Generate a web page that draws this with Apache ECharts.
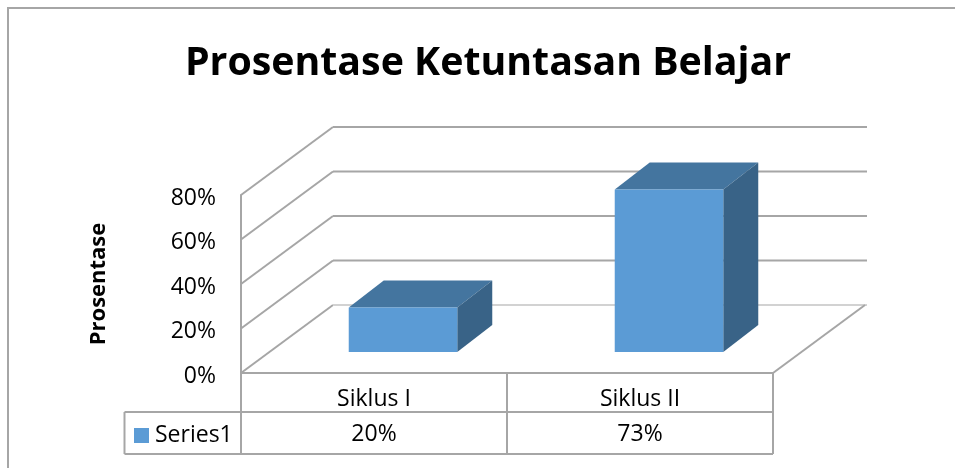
<!DOCTYPE html>
<html>
<head>
<meta charset="utf-8">
<title>Prosentase Ketuntasan Belajar</title>
<script src="https://cdn.jsdelivr.net/npm/echarts@6/dist/echarts.min.js"></script>
<style>
  html, body { margin: 0; padding: 0; background: #fff; }
  #chart { width: 955px; height: 468px; }
</style>
</head>
<body>
<div id="chart"></div>
<script>
var categories = ['Siklus I', 'Siklus II']
var seriesName = 'Series1'
var values = [20, 73]
var yTicks = [0, 20, 40, 60, 80]

var FONT = '"Open Sans", "Noto Sans", sans-serif'
var LINE = '#a6a6a6'
// kedalaman 3D: dinding belakang dan posisi batang di lantai
var WALL_DX = 92, WALL_DY = 68
var BAR_NEAR_DX = 29, BAR_NEAR_DY = 21
var BAR_DX = 35, BAR_DY = 27
var BAR_RATIO = 0.408
// baris tabel data
var ROW_1 = 412, ROW_2 = 454, TABLE_LEFT = 124.5

function line (x1, y1, x2, y2, color, width) {
  return {
    type: 'line',
    shape: { x1: x1, y1: y1, x2: x2, y2: y2 },
    style: { stroke: color || LINE, lineWidth: width || 2, fill: null }
  }
}

function renderWall (params, api) {
  var cs = params.coordSys
  var v = api.value(0)
  var y = api.coord([0, v])[1]
  var color = v === 0 ? '#d2d2d2' : LINE
  var children = [
    line(cs.x, y, cs.x + WALL_DX, y - WALL_DY),
    line(cs.x + WALL_DX, y - WALL_DY, cs.x + cs.width + WALL_DX + 2, y - WALL_DY, color)
  ]
  if (v === 0) {
    children.push(line(cs.x + cs.width, y, cs.x + cs.width + WALL_DX, y - WALL_DY))
  }
  return { type: 'group', children: children }
}

function renderBar (params, api) {
  var i = api.value(0)
  var base = api.coord([i, 0])
  var top = api.coord([i, api.value(1)])
  var w = api.size([1, 0])[0] * BAR_RATIO
  var x1 = base[0] - w / 2 + BAR_NEAR_DX
  var x2 = x1 + w
  var y1 = top[1] - BAR_NEAR_DY
  var y2 = base[1] - BAR_NEAR_DY
  return {
    type: 'group',
    children: [
      {
        type: 'polygon',
        shape: { points: [[x1, y1], [x2, y1], [x2 + BAR_DX, y1 - BAR_DY], [x1 + BAR_DX, y1 - BAR_DY]] },
        style: { fill: '#44759f' }
      },
      {
        type: 'polygon',
        shape: { points: [[x2, y1], [x2 + BAR_DX, y1 - BAR_DY], [x2 + BAR_DX, y2 - BAR_DY], [x2, y2]] },
        style: { fill: '#396387' }
      },
      {
        type: 'polygon',
        shape: { points: [[x1, y1], [x2, y1], [x2, y2], [x1, y2]] },
        style: { fill: '#5b9bd5' }
      }
    ]
  }
}

// garis tabel + nilai di bawah tiap kategori
function renderTableCell (params, api) {
  var cs = params.coordSys
  var i = api.value(0)
  var center = api.coord([i, 0])[0]
  var band = api.size([1, 0])[0]
  var bottom = cs.y + cs.height
  var right = center + band / 2
  var children = [
    line(right, bottom, right, ROW_2),
    {
      type: 'text',
      style: {
        text: api.value(1) + '%',
        x: center,
        y: (ROW_1 + ROW_2) / 2 + 1,
        align: 'center',
        verticalAlign: 'middle',
        fill: '#000',
        font: '23px ' + FONT
      }
    }
  ]
  if (i === 0) {
    children.push(line(TABLE_LEFT, ROW_1, cs.x + cs.width, ROW_1))
    children.push(line(TABLE_LEFT, ROW_2, cs.x + cs.width, ROW_2))
    children.push(line(TABLE_LEFT, ROW_1, TABLE_LEFT, ROW_2))
    children.push(line(cs.x, bottom, cs.x, ROW_2))
  }
  return { type: 'group', children: children }
}

var chart = echarts.init(document.getElementById('chart'))
chart.setOption({
  animation: false,
  backgroundColor: '#fff',
  title: {
    text: 'Prosentase Ketuntasan Belajar',
    left: 483,
    top: 39,
    textAlign: 'center',
    textStyle: { fontFamily: FONT, fontWeight: 'bold', fontSize: 39.3, color: '#000' }
  },
  legend: {
    data: [seriesName],
    left: 129,
    top: 419,
    icon: 'rect',
    itemWidth: 15,
    itemHeight: 15,
    itemGap: 0,
    selectedMode: false,
    textStyle: { fontFamily: FONT, fontSize: 23, color: '#000', padding: [0, 0, 0, 1] }
  },
  graphic: [
    {
      type: 'polyline',
      shape: { points: [[8, 468], [8, 8], [955, 8]] },
      style: { stroke: LINE, lineWidth: 2, fill: null }
    }
  ],
  grid: { left: 241, top: 195, width: 532, height: 178 },
  xAxis: {
    type: 'category',
    data: categories,
    axisLine: { show: true, lineStyle: { color: LINE, width: 2 } },
    axisTick: { show: false },
    axisLabel: { color: '#000', fontFamily: FONT, fontSize: 23, margin: 15 }
  },
  yAxis: {
    type: 'value',
    min: 0,
    max: 80,
    interval: 20,
    name: 'Prosentase',
    nameLocation: 'middle',
    nameGap: 131,
    nameTextStyle: { color: '#000', fontFamily: FONT, fontWeight: 'bold', fontSize: 22 },
    splitLine: { show: false },
    axisLine: { show: true, lineStyle: { color: LINE, width: 2 } },
    axisTick: { show: false },
    axisLabel: {
      color: '#000',
      fontFamily: FONT,
      fontSize: 23,
      margin: 25,
      verticalAlign: 'top',
      lineHeight: 6,
      formatter: function (v) { return v + '%' }
    }
  },
  series: [
    {
      type: 'custom',
      name: 'wall',
      renderItem: renderWall,
      data: yTicks,
      encode: { y: 0 },
      silent: true,
      z: 1
    },
    {
      type: 'custom',
      name: seriesName,
      renderItem: renderBar,
      itemStyle: { color: '#5b9bd5' },
      data: values.map(function (v, i) { return [i, v] }),
      encode: { x: 0, y: 1 },
      z: 3
    },
    {
      type: 'custom',
      name: 'table',
      renderItem: renderTableCell,
      data: values.map(function (v, i) { return [i, v] }),
      encode: { x: 0, y: 1 },
      silent: true,
      z: 2
    }
  ]
})
</script>
</body>
</html>
